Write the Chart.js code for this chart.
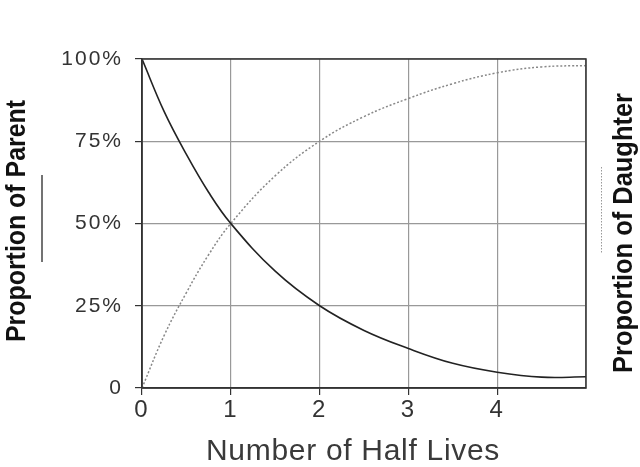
<!DOCTYPE html>
<html>
<head>
<meta charset="utf-8">
<script src="https://cdn.jsdelivr.net/npm/chart.js@4.4.1/dist/chart.umd.min.js"></script>
<style>
html,body{margin:0;padding:0;background:#fff;}
canvas{display:block;}
</style>
</head>
<body>
<canvas id="c" width="640" height="467"></canvas>
<script>
// Data
const halfLives   = [0, 0.25, 0.5, 0.75, 1, 1.5, 2, 2.5, 3, 3.5, 4, 4.5, 5];
const parentPct   = [100, 84, 71, 59.5, 50, 35.5, 25, 17.5, 12, 7.5, 4.8, 3.3, 3.4];
const daughterPct = [0, 16, 29, 40.5, 50, 64.5, 75, 82.5, 88, 92.5, 95.8, 97.6, 98];
const xTickLabels = ['0', '1', '2', '3', '4'];
const yTickLabels = {0: '0', 25: '25%', 50: '50%', 75: '75%', 100: '100%'};
const xTitle = 'Number of Half Lives';
const leftTitle = 'Proportion of Parent';
const rightTitle = 'Proportion of Daughter';

const toPts = (xs, ys) => xs.map((x, i) => ({x: x, y: ys[i]}));

function rotText(ctx, text, bx, cy, font, len, color) {
  ctx.save();
  ctx.font = font;
  ctx.fillStyle = color;
  ctx.letterSpacing = '0px';
  const w = ctx.measureText(text).width;
  ctx.translate(bx, cy);
  ctx.rotate(-Math.PI / 2);
  ctx.scale(len / w, 1);
  ctx.textAlign = 'center';
  ctx.textBaseline = 'alphabetic';
  ctx.fillText(text, 0, 0);
  ctx.restore();
}

const deco = {
  id: 'deco',
  beforeDraw(chart) {
    chart.ctx.letterSpacing = '2px';
  },
  afterDraw(chart) {
    const ctx = chart.ctx;
    const a = chart.chartArea;
    ctx.save();
    ctx.strokeStyle = '#333';
    ctx.lineWidth = 1.5;
    ctx.setLineDash([]);
    ctx.strokeRect(a.left, a.top, a.right - a.left, a.bottom - a.top);
    ctx.font = '30px "Liberation Sans", Arial, sans-serif';
    ctx.letterSpacing = '0.7px';
    ctx.fillStyle = '#3a3a3a';
    ctx.textAlign = 'center';
    ctx.textBaseline = 'alphabetic';
    ctx.fillText(xTitle, 353, 460);
    ctx.restore();

    rotText(ctx, leftTitle, 25, 221, 'bold 28px "Liberation Sans", Arial, sans-serif', 242, '#111');
    rotText(ctx, rightTitle, 632, 233, 'bold 28px "Liberation Sans", Arial, sans-serif', 280, '#111');

    ctx.save();
    ctx.letterSpacing = '0px';
    ctx.strokeStyle = '#444';
    ctx.lineWidth = 1.5;
    ctx.beginPath();
    ctx.moveTo(42, 175); ctx.lineTo(42, 262);
    ctx.stroke();
    ctx.strokeStyle = '#999';
    ctx.lineWidth = 1;
    ctx.setLineDash([1.5, 1.5]);
    ctx.beginPath();
    ctx.moveTo(601.5, 167); ctx.lineTo(601.5, 253);
    ctx.stroke();
    ctx.restore();
  }
};

new Chart(document.getElementById('c'), {
  type: 'line',
  data: {
    datasets: [
      {
        label: 'Parent',
        data: toPts(halfLives, parentPct),
        borderColor: '#222',
        borderWidth: 1.6,
        pointRadius: 0,
        fill: false,
        tension: 0.4
      },
      {
        label: 'Daughter',
        data: toPts(halfLives, daughterPct),
        borderColor: '#888',
        borderWidth: 1.5,
        borderDash: [2, 2],
        pointRadius: 0,
        fill: false,
        tension: 0.4
      }
    ]
  },
  options: {
    responsive: false,
    animation: false,
    layout: {padding: {top: 59, right: 54, left: 0, bottom: 0}},
    plugins: {legend: {display: false}, tooltip: {enabled: false}},
    scales: {
      x: {
        type: 'linear',
        min: 0, max: 5,
        afterFit(s) { s.height = 79; },
        border: {display: true, color: '#333', width: 1.5},
        grid: {
          color: '#999', lineWidth: 1.2, tickLength: 7, tickWidth: 1.2,
          tickColor: (c) => (c.tick && c.tick.value === 5 ? 'rgba(0,0,0,0)' : '#333')
        },
        ticks: {
          stepSize: 1,
          padding: 1,
          color: '#333',
          font: {family: '"Liberation Sans", Arial, sans-serif', size: 24},
          callback: (v) => (xTickLabels[v] !== undefined ? xTickLabels[v] : '')
        }
      },
      y: {
        min: 0, max: 100,
        afterFit(s) { s.width = 142; },
        border: {display: true, color: '#333', width: 1.5},
        grid: {color: '#999', lineWidth: 1.2, tickLength: 7, tickColor: '#333', tickWidth: 1.2},
        ticks: {
          stepSize: 25,
          padding: 12,
          color: '#333',
          font: {family: '"Liberation Sans", Arial, sans-serif', size: 21},
          callback: (v) => (yTickLabels[v] !== undefined ? yTickLabels[v] : '')
        }
      }
    }
  },
  plugins: [deco]
});
</script>
</body>
</html>
